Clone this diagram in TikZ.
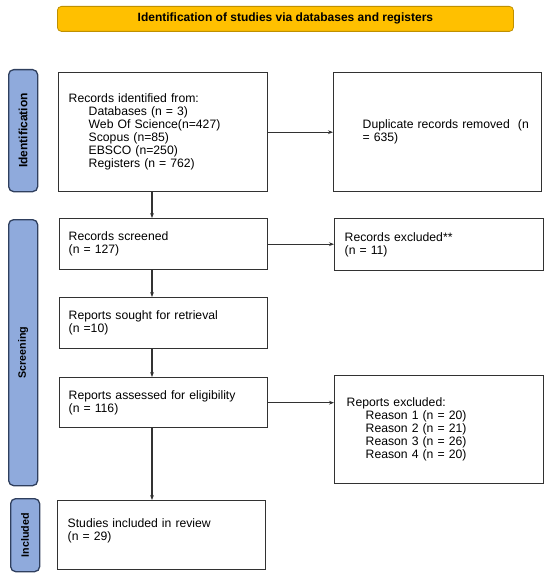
\documentclass[tikz,border=0pt]{standalone}
\usepackage{fontspec}
\setmainfont{Liberation Sans}
\usetikzlibrary{arrows.meta}
\definecolor{boxline}{RGB}{50,50,50}
\definecolor{sidefill}{RGB}{143,170,220}
\definecolor{sideline}{RGB}{47,63,94}
\definecolor{titlefill}{RGB}{255,192,0}
\definecolor{titleline}{RGB}{191,144,0}
\begin{document}
\begin{tikzpicture}[x=1pt,y=-1pt,
  stagebox/.style={draw=boxline, line width=1.4pt, anchor=north west, align=left,
    font=\fontsize{12.2}{13}\selectfont, inner ysep=0pt},
  sidebar/.style={draw=sideline, fill=sidefill, line width=1.3pt, rounded corners=5pt,
    anchor=north west, inner sep=0pt},
  sidelabel/.style={rotate=90, font=\bfseries\fontsize{10.7}{12}\selectfont, inner sep=0pt},
  titlebox/.style={draw=titleline, fill=titlefill, line width=0.8pt, rounded corners=4pt,
    anchor=north west, font=\bfseries\fontsize{12}{14}\selectfont, inner sep=0pt},
  arr/.style={draw=boxline, line width=1.1pt, -{Stealth[length=5pt,width=3.8pt]}},
]
\useasboundingbox (0,0) rectangle (550,578);

% title
\node[titlebox, minimum width=456pt, minimum height=25pt] (title) at (57,6)
  {Identification of studies via databases and registers};

% side bars
\node[sidebar, minimum width=29pt, minimum height=122pt] (sideI) at (8,69) {};
\node[sidelabel, font=\bfseries\fontsize{12}{14}\selectfont] (labI) at (sideI.center) {Identification};
\node[sidebar, minimum width=29pt, minimum height=266pt] (sideS) at (8,219) {};
\node[sidelabel] (labS) at (sideS.center) {Screening};
\node[sidebar, minimum width=29pt, minimum height=73pt] (sideN) at (10,498) {};
\node[sidelabel] (labN) at (sideN.center) {Included};

% boxes
\node[stagebox, minimum width=209pt, minimum height=119pt, inner xsep=10pt, text width=189pt] (A) at (58,72)
  {Records identified from:\\
   \hspace*{20pt}Databases (n = 3)\\
   \hspace*{20pt}Web Of Science(n=427)\\
   \hspace*{20pt}Scopus (n=85)\\
   \hspace*{20pt}EBSCO (n=250)\\
   \hspace*{20pt}Registers (n = 762)};

\node[stagebox, minimum width=208pt, minimum height=119pt, inner xsep=29pt, text width=150pt] (B) at (333,72)
  {\mbox{Duplicate records removed\ \ (n}\\= 635)};

\node[stagebox, minimum width=208pt, minimum height=51pt, inner xsep=9pt, text width=190pt] (C) at (59,218)
  {Records screened\\(n = 127)};

\node[stagebox, minimum width=209pt, minimum height=52pt, inner xsep=10pt, text width=189pt] (D) at (334,218)
  {Records excluded**\\(n = 11)};

\node[stagebox, minimum width=208pt, minimum height=51pt, inner xsep=9pt, text width=190pt] (E) at (59,297)
  {Reports sought for retrieval\\(n =10)};

\node[stagebox, minimum width=208pt, minimum height=50pt, inner xsep=9pt, text width=190pt] (F) at (59,377)
  {Reports assessed for eligibility\\(n = 116)};

\node[stagebox, minimum width=209pt, minimum height=108pt, inner xsep=12pt, text width=185pt] (G) at (334,375)
  {Reports excluded:\\
   \hspace*{19pt}Reason 1 (n = 20)\\
   \hspace*{19pt}Reason 2 (n = 21)\\
   \hspace*{19pt}Reason 3 (n = 26)\\
   \hspace*{19pt}Reason 4 (n = 20)};

\node[stagebox, minimum width=208pt, minimum height=69pt, inner xsep=10pt, text width=188pt] (H) at (57,500)
  {Studies included in review\\(n = 29)\\[-1pt]\mbox{}};

% connectors
\coordinate (vx) at (152,0);
\draw[arr] (vx |- A.south) -- (vx |- C.north);
\draw[arr] (vx |- C.south) -- (vx |- E.north);
\draw[arr] (vx |- E.south) -- (vx |- F.north);
\draw[arr] (vx |- F.south) -- (vx |- H.north);
\draw[arr] (A.east) -- (A.east -| B.west);
\draw[arr] (C.east) -- (C.east -| D.west);
\draw[arr] (F.east) -- (F.east -| G.west);
\end{tikzpicture}
\end{document}
